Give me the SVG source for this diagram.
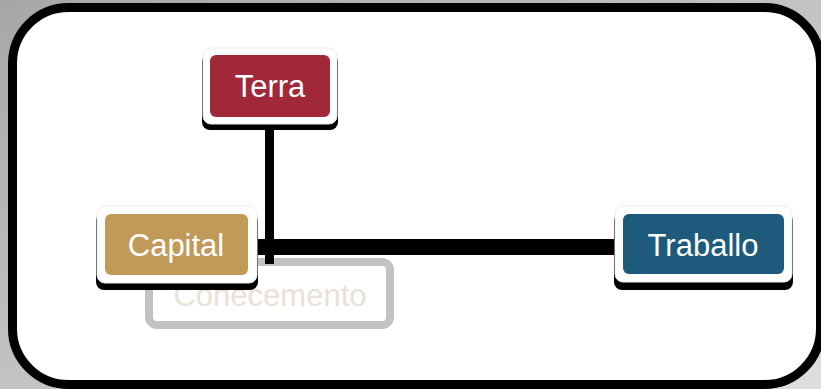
<svg xmlns="http://www.w3.org/2000/svg" width="821" height="389" viewBox="0 0 821 389">
  <defs>
    <linearGradient id="bg" x1="0" y1="0" x2="1" y2="1">
      <stop offset="0" stop-color="#a7a7a7"/>
      <stop offset="1" stop-color="#dedede"/>
    </linearGradient>
    <style>
      .plate { fill: #ffffff; stroke: #ececec; stroke-width: 1; }
      .shadow { fill: #000000; }
      .label { font-family: "Liberation Sans", Arial, sans-serif; font-size: 31px; fill: #ffffff; text-anchor: middle; }
      .link { stroke: #000000; fill: none; }
    </style>
  </defs>

  <!-- backdrop and frame -->
  <rect x="0" y="0" width="821" height="389" fill="url(#bg)"/>
  <rect x="12.5" y="7.5" width="808" height="377" rx="56" ry="56" fill="#ffffff" stroke="#000000" stroke-width="9"/>

  <!-- faded node -->
  <g id="node-conecemento">
    <rect x="149" y="262" width="241" height="63" rx="8" ry="8" fill="#ffffff" stroke="#c2c2c2" stroke-width="8"/>
    <text class="label" x="270" y="306" style="fill:#e8e2d5">Conecemento</text>
  </g>

  <!-- connectors -->
  <g id="connectors">
    <line class="link" x1="269.5" y1="124" x2="269.5" y2="264" stroke-width="9"/>
    <line class="link" x1="250" y1="247" x2="620" y2="247" stroke-width="16"/>
  </g>

  <g id="node-terra">
    <rect class="shadow" x="202" y="54" width="136" height="76" rx="8" ry="8"/>
    <rect class="plate" x="203" y="48" width="134" height="76" rx="8" ry="8"/>
    <rect x="210" y="55" width="120" height="62" rx="6" ry="6" fill="#a02839"/>
    <text class="label" x="270" y="97">Terra</text>
  </g>

  <g id="node-capital">
    <rect class="shadow" x="96" y="213" width="162" height="77" rx="8" ry="8"/>
    <rect class="plate" x="97" y="206" width="160" height="77" rx="8" ry="8"/>
    <rect x="105" y="214" width="143" height="61" rx="6" ry="6" fill="#c19a5a"/>
    <text class="label" x="176" y="256">Capital</text>
  </g>

  <g id="node-traballo">
    <rect class="shadow" x="614" y="213" width="179" height="77" rx="8" ry="8"/>
    <rect class="plate" x="615" y="206" width="177" height="76" rx="8" ry="8"/>
    <rect x="623" y="214" width="161" height="60" rx="6" ry="6" fill="#1d5a7c"/>
    <text class="label" x="703" y="256">Traballo</text>
  </g>
</svg>
